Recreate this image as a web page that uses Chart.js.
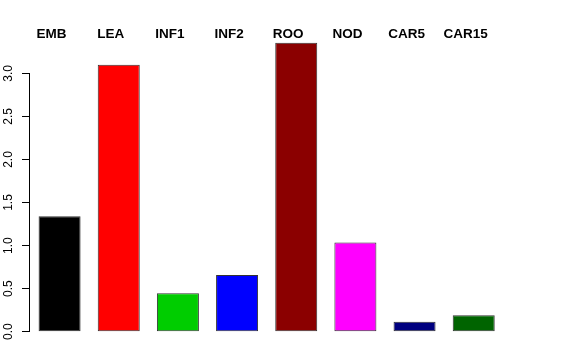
<!DOCTYPE html>
<html>
<head>
<meta charset="utf-8">
<script src="https://cdn.jsdelivr.net/npm/chart.js@4"></script>
<style>
html,body{margin:0;padding:0;background:#fff;}
#wrap{width:576px;height:360px;position:relative;}
</style>
</head>
<body>
<div id="wrap"><canvas id="c" width="576" height="360"></canvas></div>
<script>
const categories = ["EMB","LEA","INF1","INF2","ROO","NOD","CAR5","CAR15"];
const values = [1.34, 3.10, 0.445, 0.658, 3.355, 1.035, 0.115, 0.19];
const barColors = ["#000000","#FF0000","#00CD00","#0000FF","#8B0000","#FF00FF","#000080","#006400"];
const yTicks = [0, 0.5, 1.0, 1.5, 2.0, 2.5, 3.0];

const FONT = '"Liberation Sans", Arial, Helvetica, sans-serif';

const topLabels = {
  id: 'topLabels',
  afterDraw(chart) {
    const ctx = chart.ctx;
    const a = chart.chartArea;
    const xs = chart.scales.x;
    ctx.save();
    ctx.font = 'bold 13.5px ' + FONT;
    ctx.fillStyle = '#000';
    ctx.textAlign = 'center';
    ctx.textBaseline = 'alphabetic';
    categories.forEach((c, i) => {
      ctx.fillText(c, xs.getPixelForValue(i) - 8, 37.7);
    });
    // y axis line from first to last tick
    const y = chart.scales.y;
    ctx.strokeStyle = '#000';
    ctx.lineWidth = 1;
    ctx.beginPath();
    const x0 = Math.round(a.left) - 0.5;
    ctx.moveTo(x0, y.getPixelForValue(yTicks[0]));
    ctx.lineTo(x0, y.getPixelForValue(yTicks[yTicks.length - 1]));
    ctx.stroke();
    ctx.restore();
  }
};

new Chart(document.getElementById('c'), {
  type: 'bar',
  data: {
    labels: categories,
    datasets: [{
      data: values,
      backgroundColor: barColors,
      borderColor: '#333333',
      borderWidth: 1,
      borderSkipped: false,
      barPercentage: 0.71,
      categoryPercentage: 1.0
    }]
  },
  options: {
    responsive: false,
    animation: false,
    layout: { padding: { top: 31.3, bottom: 16.8, right: 72.7, left: 0 } },
    plugins: { legend: { display: false }, tooltip: { enabled: false } },
    scales: {
      x: { display: false },
      y: {
        min: -0.134,
        max: 3.489,
        afterBuildTicks(scale) { scale.ticks = yTicks.map(v => ({ value: v })); },
        afterFit(scale) { scale.width = 30; },
        border: { display: false },
        grid: { drawOnChartArea: false, drawTicks: true, tickLength: 8, color: '#000', lineWidth: 1 },
        ticks: {
          minRotation: 90, maxRotation: 90,
          crossAlign: 'center',
          padding: 5,
          color: '#000',
          font: { family: FONT, size: 12 },
          callback: (v) => Number(v).toFixed(1)
        }
      }
    }
  },
  plugins: [topLabels]
});
</script>
</body>
</html>
